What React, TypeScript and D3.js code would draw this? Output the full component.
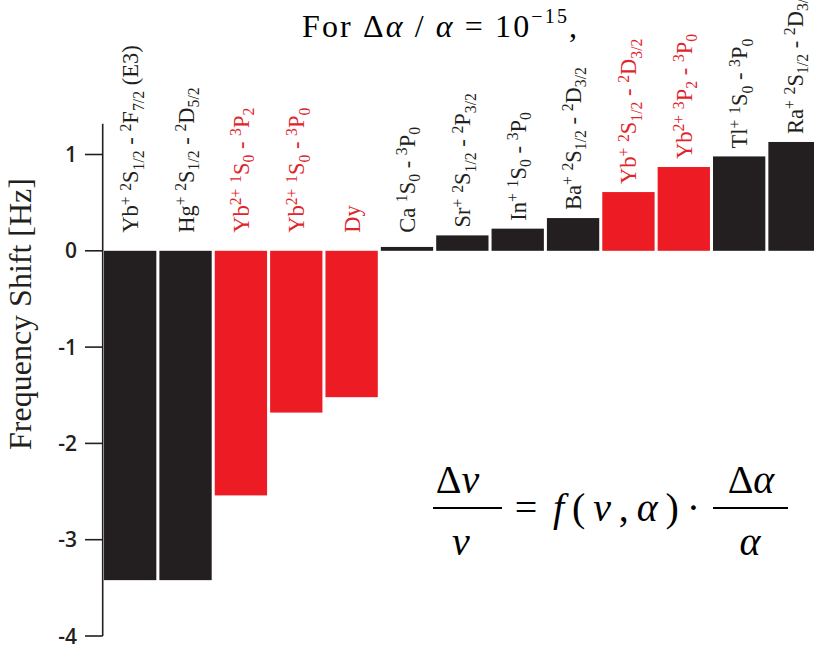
import React from 'react';
import * as d3 from 'd3';

const categories = ['Yb+ E3', 'Hg+', 'Yb2+ 3P2', 'Yb2+ 3P0', 'Dy', 'Ca', 'Sr+', 'In+', 'Ba+', 'Yb+ D3/2', 'Yb2+ 3P2-3P0', 'Tl+', 'Ra+'];
const labels = [
  'Yb^{+} ^{2}S_{1/2} - ^{2}F_{7/2} (E3)',
  'Hg^{+} ^{2}S_{1/2} - ^{2}D_{5/2}',
  'Yb^{2+} ^{1}S_{0} - ^{3}P_{2}',
  'Yb^{2+} ^{1}S_{0} - ^{3}P_{0}',
  'Dy',
  'Ca ^{1}S_{0} - ^{3}P_{0}',
  'Sr^{+} ^{2}S_{1/2} - ^{2}P_{3/2}',
  'In^{+} ^{1}S_{0} - ^{3}P_{0}',
  'Ba^{+} ^{2}S_{1/2} - ^{2}D_{3/2}',
  'Yb^{+} ^{2}S_{1/2} - ^{2}D_{3/2}',
  'Yb^{2+} ^{3}P_{2} - ^{3}P_{0}',
  'Tl^{+} ^{1}S_{0} - ^{3}P_{0}',
  'Ra^{+} ^{2}S_{1/2} - ^{2}D_{3/2}',
];
const shifts = [-3.42, -3.42, -2.54, -1.68, -1.52, 0.04, 0.16, 0.23, 0.34, 0.61, 0.87, 0.98, 1.13];
const highlighted = [false, false, true, true, true, false, false, false, false, true, true, false, false];
const yTicks = [1, 0, -1, -2, -3, -4];
const axisTop = 1.32;

const BLACK = '#231f20';
const RED = '#ed1c24';
const RED_TEXT = '#e0242b';

type Seg = { t: string; k: 'n' | 'sup' | 'sub' };
function parse(s: string): Seg[] {
  const out: Seg[] = [];
  let i = 0;
  let buf = '';
  while (i < s.length) {
    const c = s[i];
    if ((c === '^' || c === '_') && s[i + 1] === '{') {
      if (buf) { out.push({ t: buf, k: 'n' }); buf = ''; }
      const j = s.indexOf('}', i);
      out.push({ t: s.slice(i + 2, j), k: c === '^' ? 'sup' : 'sub' });
      i = j + 1;
    } else {
      buf += c;
      i++;
    }
  }
  if (buf) out.push({ t: buf, k: 'n' });
  return out;
}

function RichText({ segs, base }: { segs: Seg[]; base: number }) {
  let cur = 0;
  return (
    <>
      {segs.map((s, i) => {
        const target = s.k === 'sup' ? -base * 0.34 : s.k === 'sub' ? base * 0.24 : 0;
        const dy = target - cur;
        cur = target;
        return (
          <tspan key={i} dy={dy} fontSize={s.k === 'n' ? base : base * 0.7}>
            {s.t}
          </tspan>
        );
      })}
    </>
  );
}

export default function App() {
  const W = 814;
  const H = 649;
  const x = d3.scaleBand<string>().domain(categories).range([102.5, 822.2]).paddingInner(0.055).paddingOuter(0.0275);
  const y = d3.scaleLinear().domain([-4, 1]).range([636, 154.5]);
  const axisX = 102.7;
  const serif = '"Liberation Serif", "Times New Roman", serif';
  const labelSize = 22.5;

  return (
    <svg width={W} height={H} style={{ position: 'absolute', left: 0, top: 0, background: '#fff' }}>
      <rect x={0} y={0} width={W} height={H} fill="#fff" />
      {/* bars */}
      {categories.map((c, i) => {
        const v = shifts[i];
        const y0 = y(0);
        const y1 = y(v);
        return (
          <rect
            key={c}
            x={x(c)}
            y={Math.min(y0, y1)}
            width={x.bandwidth()}
            height={Math.abs(y1 - y0)}
            fill={highlighted[i] ? RED : BLACK}
          />
        );
      })}
      {/* bar labels */}
      {categories.map((c, i) => {
        const v = shifts[i];
        const top = y(Math.max(v, 0));
        const ly = Math.min(top - 8, y(0) - 18);
        const lx = (x(c) as number) + x.bandwidth() / 2 + 8;
        return (
          <text
            key={c}
            transform={`translate(${lx},${ly}) rotate(-90)`}
            fontFamily={serif}
            fontSize={labelSize}
            fill={highlighted[i] ? RED_TEXT : BLACK}
            style={{ whiteSpace: 'pre' }}
          >
            <RichText segs={parse(labels[i])} base={labelSize} />
          </text>
        );
      })}
      {/* y axis */}
      <line x1={axisX} x2={axisX} y1={y(axisTop)} y2={y(-4)} stroke={BLACK} strokeWidth={1.6} />
      {yTicks.map((t) => (
        <g key={t}>
          <line x1={85} x2={axisX} y1={y(t)} y2={y(t)} stroke={BLACK} strokeWidth={1.6} />
          <text
            x={77}
            y={y(t)}
            dy="0.36em"
            textAnchor="end"
            fontFamily='"Open Sans", "DejaVu Sans", sans-serif'
            fontWeight={600}
            fontSize={21}
            fill={BLACK}
          >
            {String(t)}
          </text>
        </g>
      ))}
      <text
        transform={`translate(31,314) rotate(-90)`}
        textAnchor="middle"
        fontFamily={serif}
        fontSize={32}
        fill={BLACK}
      >
        Frequency Shift [Hz]
      </text>
      {/* title */}
      <text
        x={302}
        y={37}
        fontFamily={serif}
        fontSize={32}
        fill="#000"
        style={{ whiteSpace: 'pre' }}
        textLength={275}
        lengthAdjust="spacing"
      >
        For Δ<tspan fontStyle="italic">α</tspan> / <tspan fontStyle="italic">α</tspan> = 10<tspan dy={-14} fontSize={20}>−15</tspan><tspan dy={14}>,</tspan>
      </text>
      {/* formula */}
      <g fontFamily={serif} fill="#000">
        <text x={457.5} y={493} fontSize={40} textAnchor="middle">
          Δ<tspan fontStyle="italic">ν</tspan>
        </text>
        <line x1={433} x2={502} y1={508} y2={508} stroke="#000" strokeWidth={2} />
        <text x={461} y={555} fontSize={40} textAnchor="middle" fontStyle="italic">ν</text>
        <text x={526} y={521} fontSize={40} textAnchor="middle">=</text>
        <text x={553} y={521} fontSize={40} textLength={147} lengthAdjust="spacing">
          <tspan fontStyle="italic">f</tspan>(<tspan fontStyle="italic">ν</tspan>,<tspan fontStyle="italic">α</tspan>)·
        </text>
        <text x={751} y={493} fontSize={40} textAnchor="middle">
          Δ<tspan fontStyle="italic">α</tspan>
        </text>
        <line x1={713} x2={788} y1={508} y2={508} stroke="#000" strokeWidth={2} />
        <text x={750} y={555} fontSize={40} textAnchor="middle" fontStyle="italic">α</text>
      </g>
    </svg>
  );
}
